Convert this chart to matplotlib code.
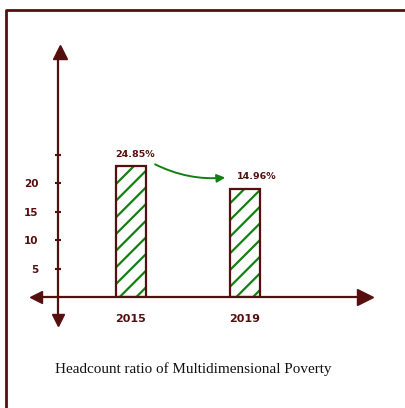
import matplotlib
matplotlib.use("Agg")
import matplotlib.pyplot as plt

years = ["2015", "2019"]
drawn_heights = [23.0, 19.0]
value_labels = ["24.85%", "14.96%"]
ytick_values = [5, 10, 15, 20, 25]
ytick_labels = ["5", "10", "15", "20", ""]
title = "Headcount ratio of Multidimensional Poverty"

W, H = 406, 408
MAROON = "#560f0f"
GREEN = "#138013"

plt.rcParams["hatch.linewidth"] = 1.6
fig = plt.figure(figsize=(W / 100, H / 100), dpi=100)

# decoration layer in pixel coordinates
deco = fig.add_axes([0, 0, 1, 1])
deco.set_xlim(0, W)
deco.set_ylim(H, 0)
deco.axis("off")
deco.plot([6, 6, W], [H, 10, 10], color=MAROON, lw=2)
# axis lines
deco.plot([58, 58], [52, 320], color=MAROON, lw=1.6)
deco.plot([36, 365], [297, 297], color=MAROON, lw=1.6)
deco.plot([60], [52], marker="^", ms=10, color=MAROON)
deco.plot([58], [320], marker="v", ms=9, color=MAROON)
deco.plot([36], [297], marker="<", ms=8, color=MAROON)
deco.plot([365], [297], marker=">", ms=11, color=MAROON)
deco.text(193, 369, title, ha="center", va="center", fontsize=10.9,
          family="Liberation Serif", color="#111111")

# data axes
ax = fig.add_axes([58 / W, (H - 297) / H, (375 - 58) / W, (297 - 48) / H])
ax.patch.set_alpha(0)
for s in ax.spines.values():
    s.set_visible(False)
x = list(range(len(years)))
ax.set_xlim(-0.64, 2.14)
ax.set_ylim(0, 43.7)
ax.bar(x, drawn_heights, width=0.26, color="none", edgecolor=GREEN, hatch="//", lw=0)
ax.bar(x, drawn_heights, width=0.26, color="none", edgecolor=MAROON, lw=1.6)
ax.set_xticks(x)
ax.set_xticklabels(years, fontsize=8, fontweight="bold", color=MAROON)
ax.tick_params(axis="x", length=0, pad=12)
ax.set_yticks(ytick_values)
ax.set_yticklabels(ytick_labels, fontsize=7.5, fontweight="bold", color=MAROON)
ax.tick_params(axis="y", length=4, width=1.5, color=MAROON, direction="inout", pad=12)

offsets = [(0.04, 2.0), (0.1, 2.2)]
for xi, h, lab, (dx, dy) in zip(x, drawn_heights, value_labels, offsets):
    ax.text(xi + dx, h + dy, lab, ha="center", va="center", fontsize=6.8,
            fontweight="bold", color=MAROON)

ax.annotate("", xy=(x[1] - 0.15, drawn_heights[1] + 2.0),
            xytext=(x[0] + 0.19, drawn_heights[0] + 0.5),
            arrowprops=dict(arrowstyle="-|>", color=GREEN, lw=1.4,
                            mutation_scale=12, connectionstyle="arc3,rad=0.15"))

fig.savefig("out.png", dpi=100)
